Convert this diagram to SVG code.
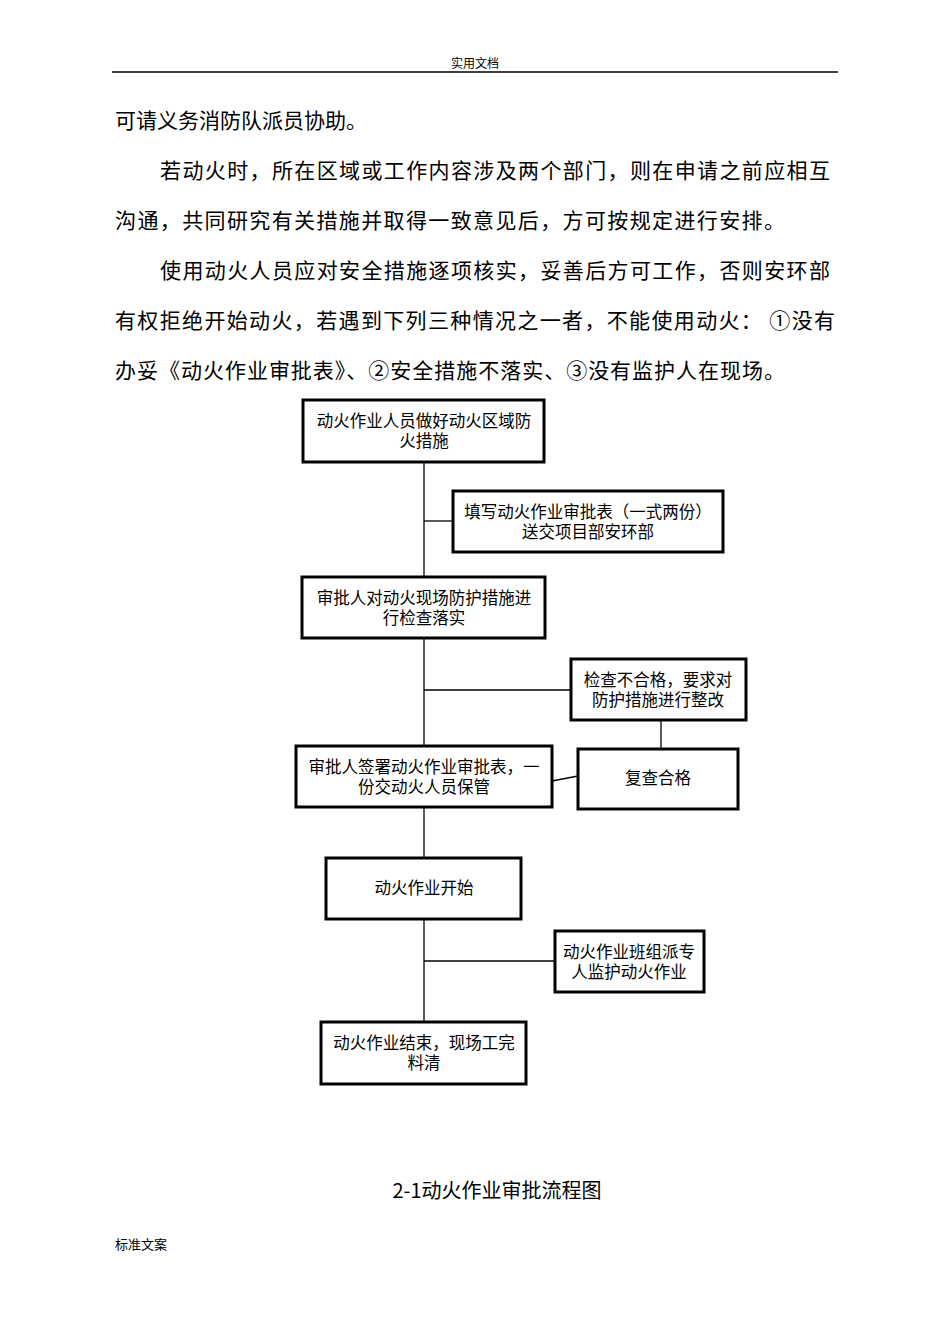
<svg xmlns="http://www.w3.org/2000/svg" width="950" height="1344" viewBox="0 0 950 1344">
<style>
text{font-family:"Noto Sans CJK SC","Liberation Serif",serif;fill:#000}
.b{font-size:21px}
.n rect{fill:#fff;stroke:#000;stroke-width:3}
.n text{font-size:16.5px;text-anchor:middle}
.c line{stroke:#000;stroke-width:1.3}
</style>
<rect width="950" height="1344" fill="#fff"/>
<text x="475" y="68" font-size="12" text-anchor="middle">实用文档</text>
<line x1="112" y1="72" x2="838" y2="72" stroke="#000" stroke-width="1.3"/>
<text class="b" x="115" y="128">可请义务消防队派员协助。</text>
<text class="b" x="160" y="178" textLength="670">若动火时，所在区域或工作内容涉及两个部门，则在申请之前应相互</text>
<text class="b" x="115" y="228" textLength="670">沟通，共同研究有关措施并取得一致意见后，方可按规定进行安排。</text>
<text class="b" x="160" y="278" textLength="670">使用动火人员应对安全措施逐项核实，妥善后方可工作，否则安环部</text>
<text class="b" x="115" y="328" textLength="720">有权拒绝开始动火，若遇到下列三种情况之一者，不能使用动火： ①没有</text>
<text class="b" x="115" y="378" textLength="670">办妥《动火作业审批表》、②安全措施不落实、③没有监护人在现场。</text>
<g class="c">
<line x1="424" y1="462" x2="424" y2="1022"/>
<line x1="424" y1="521" x2="453" y2="521"/>
<line x1="424" y1="690" x2="571" y2="690"/>
<line x1="661" y1="720" x2="661" y2="749"/>
<line x1="552" y1="781" x2="578" y2="776"/>
<line x1="424" y1="961" x2="555" y2="961"/>
</g>
<g class="n" id="n1"><rect x="303" y="400" width="241" height="62"/><text x="424" y="427">动火作业人员做好动火区域防</text><text x="424" y="447">火措施</text></g>
<g class="n" id="n2"><rect x="453" y="491" width="270" height="61"/><text x="588" y="518">填写动火作业审批表（一式两份）</text><text x="588" y="538">送交项目部安环部</text></g>
<g class="n" id="n3"><rect x="302" y="577" width="243" height="61"/><text x="424" y="604">审批人对动火现场防护措施进</text><text x="424" y="624">行检查落实</text></g>
<g class="n" id="n4"><rect x="571" y="659" width="175" height="61"/><text x="658" y="686">检查不合格，要求对</text><text x="658" y="706">防护措施进行整改</text></g>
<g class="n" id="n5"><rect x="296" y="746" width="256" height="61"/><text x="424" y="773">审批人签署动火作业审批表，一</text><text x="424" y="793">份交动火人员保管</text></g>
<g class="n" id="n6"><rect x="578" y="749" width="160" height="60"/><text x="658" y="784">复查合格</text></g>
<g class="n" id="n7"><rect x="326" y="858" width="195" height="61"/><text x="424" y="894">动火作业开始</text></g>
<g class="n" id="n8"><rect x="555" y="931" width="149" height="61"/><text x="629" y="958">动火作业班组派专</text><text x="629" y="978">人监护动火作业</text></g>
<g class="n" id="n9"><rect x="321" y="1022" width="205" height="62"/><text x="424" y="1049">动火作业结束，现场工完</text><text x="424" y="1069">料清</text></g>
<text x="497" y="1198" font-size="20" text-anchor="middle">2-1动火作业审批流程图</text>
<text x="115" y="1249" font-size="13">标准文案</text>
</svg>
